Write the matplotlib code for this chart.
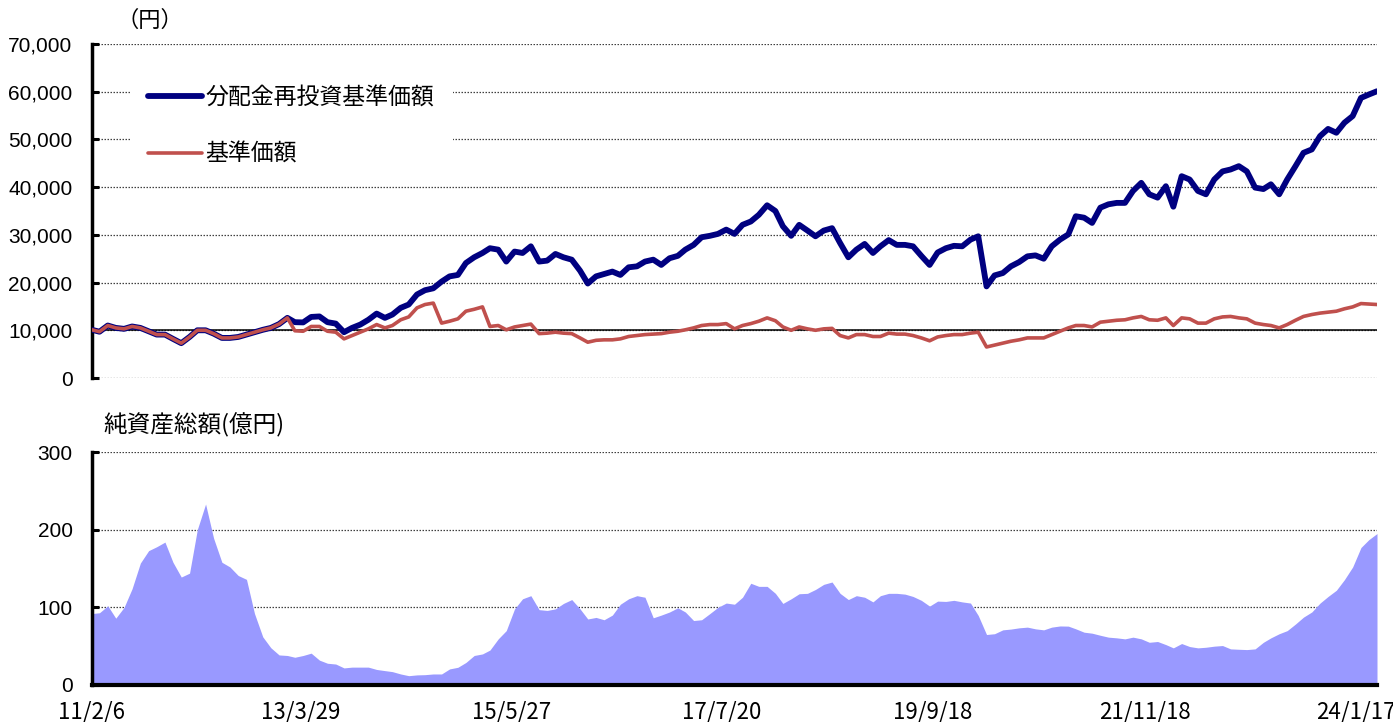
import matplotlib
matplotlib.use('Agg')
import matplotlib.pyplot as plt
import matplotlib.ticker as mticker
from matplotlib.font_manager import FontProperties
import pandas as pd

plt.rcParams['font.family'] = ['Liberation Sans', 'Noto Sans CJK JP']

# ---------------- data (monthly samples) ----------------
start_date = '2011-02-06'
end_date = '2024-04-06'

nav_reinvested = [
    10100, 9700, 11000, 10500, 10300, 10800, 10500, 9800, 9100, 9100,
    8200, 7300, 8600, 10000, 10000, 9300, 8400, 8400, 8600, 9100,
    9600, 10100, 10500, 11300, 12600, 11700, 11650, 12800, 12900, 11700,
    11400, 9600, 10500, 11200, 12200, 13500, 12600, 13300, 14700, 15400,
    17500, 18400, 18800, 20200, 21300, 21600, 24100, 25300, 26200, 27200,
    26900, 24400, 26500, 26200, 27600, 24400, 24600, 26000, 25300, 24800,
    22500, 19800, 21300, 21800, 22300, 21600, 23200, 23400, 24400, 24800,
    23700, 25100, 25600, 26900, 27900, 29500, 29800, 30200, 31100, 30200,
    32100, 32800, 34200, 36200, 35000, 31800, 29800, 32100, 30900, 29700,
    30900, 31400, 28300, 25300, 26900, 28100, 26200, 27600, 28900, 27900,
    27900, 27600, 25600, 23700, 26300, 27200, 27700, 27600, 29000, 29700,
    19200, 21500, 22000, 23400, 24300, 25500, 25700, 25000, 27600, 29000,
    30100, 33900, 33600, 32500, 35700, 36400, 36700, 36700, 39200, 40900,
    38500, 37800, 40200, 35900, 42300, 41600, 39200, 38500, 41600, 43300,
    43700, 44400, 43300, 39900, 39600, 40600, 38500, 41600, 44400, 47200,
    47900, 50700, 52200, 51400, 53500, 54900, 58700, 59400, 60100,
]

nav = [
    10100, 9700, 11000, 10500, 10300, 10800, 10500, 9800, 9100, 9100,
    8200, 7300, 8600, 10000, 10000, 9300, 8400, 8400, 8600, 9100,
    9600, 10100, 10500, 11300, 12600, 9900, 9800, 10800, 10800, 9800,
    9600, 8200, 8900, 9600, 10300, 11200, 10500, 11000, 12200, 12800,
    14700, 15400, 15700, 11500, 11900, 12400, 14000, 14400, 14900, 10800,
    11000, 10100, 10700, 11000, 11300, 9300, 9400, 9600, 9400, 9300,
    8400, 7500, 7900, 8000, 8000, 8200, 8700, 8900, 9100, 9200,
    9300, 9600, 9800, 10100, 10500, 11000, 11200, 11200, 11400, 10300,
    11000, 11400, 11900, 12600, 12000, 10700, 10000, 10700, 10300, 10000,
    10300, 10400, 8900, 8400, 9100, 9100, 8700, 8700, 9400, 9200,
    9200, 8900, 8400, 7800, 8600, 8900, 9100, 9100, 9400, 9600,
    6500, 6900, 7300, 7700, 8000, 8400, 8400, 8400, 9100, 9800,
    10500, 11000, 11000, 10700, 11700, 11900, 12100, 12200, 12600, 12900,
    12200, 12100, 12600, 11000, 12600, 12400, 11500, 11500, 12400, 12800,
    12900, 12600, 12400, 11500, 11200, 11000, 10500, 11200, 12100, 12900,
    13300, 13600, 13800, 14000, 14500, 14900, 15600, 15500, 15400,
]

net_assets = [
    92, 93, 102, 86, 100, 124, 157, 173, 178, 184,
    158, 139, 144, 200, 233, 189, 158, 152, 141, 136,
    92, 62, 48, 38.7, 38, 35.7, 38, 41, 32, 28,
    27, 22, 23, 23, 23, 20, 18.5, 17.2, 14.2, 12,
    13, 13.3, 14.2, 14.2, 20.7, 22.8, 29, 38, 40, 45,
    59.4, 70, 98, 111, 115, 97, 96, 98, 105, 110,
    98, 85, 87, 84, 90, 104, 111, 115, 113, 86.5,
    90, 94, 99.4, 94, 83, 84, 92, 100, 105.5, 104,
    113, 131, 127, 127, 118, 105, 111, 117.5, 118, 123,
    129.6, 132.6, 118, 110, 115, 113, 107, 115, 118, 118,
    117, 114, 109, 101.6, 108, 107.6, 109, 107, 105.5, 89.5,
    65, 66, 71, 72, 73.6, 74.5, 72.3, 71, 74.5, 76,
    75.8, 72.3, 68, 66.7, 64, 61.6, 60.7, 59.4, 61.6, 59.4,
    55, 56, 52, 47.8, 53.4, 49.5, 47.8, 48.6, 50, 50.8,
    46.5, 46, 45.6, 46.5, 55, 60.7, 66, 70, 78.5, 87.4,
    94, 105.5, 114, 122, 135.6, 152, 177, 187, 195,
]

tick_dates = ['2011-02-06', '2013-03-29', '2015-05-27', '2017-07-20',
              '2019-09-18', '2021-11-18', '2024-01-17']
tick_labels = ['11/2/6', '13/3/29', '15/5/27', '17/7/20',
               '19/9/18', '21/11/18', '24/1/17']

label_reinvested = '分配金再投資基準価額'
label_nav = '基準価額'
top_unit = '（円）'
bottom_title = '純資産総額(億円)'
base_value = 10000

dates = pd.date_range(start=start_date, periods=len(nav_reinvested),
                      freq=pd.DateOffset(months=1))
tick_pos = pd.to_datetime(tick_dates)

# ---------------- figure ----------------
W, H = 1393, 722
fig = plt.figure(figsize=(W / 100, H / 100), dpi=100)

ax1 = fig.add_axes([92 / W, 1 - 378 / H, 1285 / W, 334 / H])
ax2 = fig.add_axes([92 / W, 1 - 685 / H, 1285 / W, 233 / H])

cjk = 'Noto Sans CJK JP'
grid_kw = dict(linestyle=(0, (1.2, 1.2)), color='#404040', linewidth=0.9)

# top chart
ax1.plot(dates, nav_reinvested, color='#000080', lw=4.2,
         solid_joinstyle='round', solid_capstyle='round',
         label=label_reinvested, zorder=3)
ax1.plot(dates, nav, color='#C0504D', lw=2.6,
         solid_joinstyle='round', solid_capstyle='round',
         label=label_nav, zorder=4)
ax1.axhline(base_value, color='black', lw=1.1, zorder=2)
ax1.set_ylim(0, 70000)
ax1.set_yticks(range(0, 70001, 10000))
ax1.yaxis.set_major_formatter(mticker.FuncFormatter(lambda v, p: f'{v:,.0f}'))
ax1.yaxis.grid(True, **grid_kw)
ax1.set_axisbelow(True)
ax1.set_xlim(pd.Timestamp(start_date), pd.Timestamp(end_date))
for s in ['top', 'right', 'bottom']:
    ax1.spines[s].set_visible(False)
ax1.spines['left'].set_linewidth(2.5)
ax1.tick_params(axis='y', direction='in', length=5, width=2.2,
                labelsize=15, pad=14)
ax1.tick_params(axis='x', bottom=False, labelbottom=False)

leg = ax1.legend(loc='upper left', bbox_to_anchor=(0.0205, 0.962),
                 frameon=True, facecolor='white', edgecolor='none',
                 framealpha=1, fancybox=False,
                 prop=FontProperties(family=cjk, size=16.5),
                 handlelength=2.35, handletextpad=0.15, labelspacing=1.45,
                 borderpad=0.8)

# bottom chart
ax2.fill_between(dates, net_assets, 0, color='#9999FF', lw=0, zorder=2)
ax2.set_ylim(0, 300)
ax2.set_yticks([0, 100, 200, 300])
ax2.yaxis.grid(True, **grid_kw)
ax2.set_axisbelow(True)
ax2.set_xlim(pd.Timestamp(start_date), pd.Timestamp(end_date))
ax2.set_xticks(tick_pos)
ax2.set_xticklabels(tick_labels, fontfamily=cjk)
for s in ['top', 'right']:
    ax2.spines[s].set_visible(False)
ax2.spines['left'].set_linewidth(2.5)
ax2.spines['bottom'].set_linewidth(3)
ax2.spines['bottom'].set_zorder(5)
ax2.tick_params(axis='y', direction='in', length=5, width=2.2,
                labelsize=15, pad=14)
ax2.tick_params(axis='x', direction='in', length=6, width=2.2,
                labelsize=16, pad=11)

fig.text(117 / W, 1 - 20 / H, top_unit, fontsize=16, family=cjk,
         ha='left', va='center')
fig.text(103 / W, 1 - 425 / H, bottom_title, fontsize=17, family=cjk,
         ha='left', va='center')

fig.savefig('out.png', dpi=100)
